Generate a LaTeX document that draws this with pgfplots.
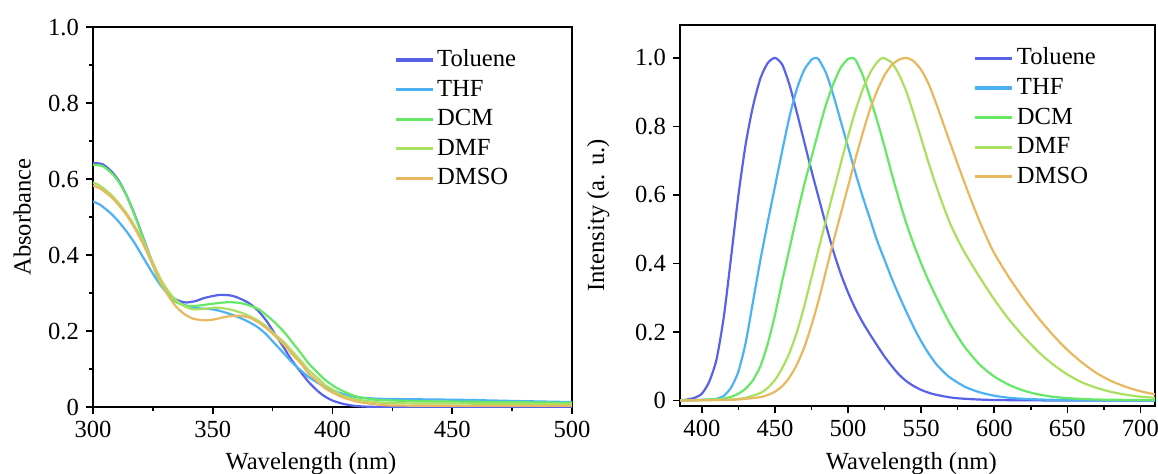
\documentclass[border=0pt]{standalone}
\usepackage{pgfplots}
\pgfplotsset{compat=1.18}
\usepackage{fontspec}
\setmainfont{Liberation Serif}
\definecolor{ctol}{RGB}{87,98,232}
\definecolor{cthf}{RGB}{77,178,245}
\definecolor{cdcm}{RGB}{102,232,102}
\definecolor{cdmf}{RGB}{170,224,96}
\definecolor{cdmso}{RGB}{232,184,96}
\pgfplotsset{
  myax/.style={
    scale only axis,
    axis line style={line width=1pt},
    tick style={black, line width=0.8pt},
    tick align=outside,
    major tick length=3.5pt,
    minor tick length=2pt,
    xtick pos=bottom, ytick pos=left,
    /pgf/number format/assume math mode=true,
    font=\fontsize{12.3}{14}\selectfont,
    tick label style={font=\fontsize{12.3}{14}\selectfont},
    label style={font=\fontsize{11.7}{13}\selectfont},
    every axis plot/.append style={line width=1.1pt, smooth, tension=0.4},
    legend cell align=left,
    legend style={draw=none, fill=none, font=\fontsize{12.3}{14}\selectfont,
      row sep=0.3pt,
      nodes={inner sep=1.5pt, text height=9pt, text depth=2.5pt}},
    legend image code/.code={\draw[#1, line width=1.6pt, sharp plot] (0pt,0pt) -- (18.5pt,0pt);},
  }
}
\begin{document}
\begin{tikzpicture}
\useasboundingbox (-46.5pt,-33pt) rectangle (532.5pt,203.5pt);
\begin{axis}[myax,
  at={(0pt,0pt)}, anchor=south west,
  width=239.5pt, height=190pt,
  xmin=300, xmax=500, ymin=0, ymax=1,
  xtick={300,350,400,450,500},
  minor xtick={325,375,425,475},
  ytick={0,0.2,0.4,0.6,0.8,1.0},
  yticklabels={0,0.2,0.4,0.6,0.8,1.0},
  minor ytick={0.1,0.3,0.5,0.7,0.9},
  xlabel={Wavelength (nm)}, ylabel={Absorbance},
  every axis x label/.style={at={(axis description cs:0.455,-0.15)}, anchor=center},
  every axis y label/.style={at={(axis description cs:-0.148,0.5)}, anchor=center, rotate=90},
  legend style={at={(axis description cs:0.615,0.963)}, anchor=north west},
]
\addplot[ctol] coordinates {(300,0.642)(304,0.639)(308,0.618)(311,0.593)(314,0.557)(317.5,0.505)(321,0.445)(324.5,0.385)(328,0.332)(333,0.29)(336,0.279)(339,0.275)(343,0.279)(346,0.286)(350,0.292)(353,0.295)(357,0.294)(360,0.289)(365,0.274)(369,0.253)(372.5,0.226)(376,0.192)(380,0.153)(383,0.123)(387,0.09)(390,0.066)(394,0.041)(397,0.027)(400,0.017)(404,0.009)(408,0.004)(411,0.002)(416,0.0005)(425,0)(460,0)(500,0)};
\addlegendentry{Toluene}
\addplot[cthf] coordinates {(300,0.541)(303,0.532)(307,0.512)(310,0.493)(314,0.462)(317.5,0.43)(321,0.393)(324.5,0.356)(328,0.322)(331.5,0.296)(335,0.278)(338.5,0.268)(342,0.261)(346,0.259)(350,0.257)(354,0.251)(358,0.243)(362,0.233)(365,0.224)(369,0.209)(372.5,0.19)(376,0.166)(380,0.139)(383,0.118)(387,0.095)(390,0.079)(394,0.063)(397,0.052)(401,0.042)(404,0.035)(408,0.028)(411,0.025)(418,0.022)(425,0.021)(453,0.019)(475,0.016)(500,0.013)};
\addlegendentry{THF}
\addplot[cdcm] coordinates {(300,0.637)(304,0.634)(308,0.614)(311,0.59)(314,0.556)(317.5,0.503)(321,0.443)(324.5,0.382)(328,0.327)(333,0.284)(336,0.272)(339,0.266)(343,0.266)(349,0.271)(353,0.274)(357,0.276)(361,0.274)(364,0.27)(369,0.258)(372,0.244)(376,0.222)(380,0.196)(383,0.172)(387,0.14)(390,0.115)(394,0.089)(397,0.071)(401,0.053)(404,0.043)(408,0.032)(411,0.026)(418,0.019)(425,0.017)(440,0.015)(470,0.013)(500,0.011)};
\addlegendentry{DCM}
\addplot[cdmf] coordinates {(300,0.591)(303,0.582)(307,0.562)(310,0.542)(314,0.51)(317.5,0.475)(321,0.435)(324.5,0.387)(328,0.34)(331.5,0.304)(335,0.279)(338.5,0.264)(342,0.257)(346,0.258)(350,0.261)(353,0.261)(357,0.257)(361,0.25)(364,0.243)(369,0.227)(372.5,0.211)(376,0.191)(380,0.169)(383,0.148)(387,0.12)(390,0.097)(394,0.075)(397,0.057)(401,0.042)(404,0.031)(408,0.023)(411,0.019)(418,0.013)(425,0.01)(450,0.009)(500,0.008)};
\addlegendentry{DMF}
\addplot[cdmso] coordinates {(300,0.583)(303,0.575)(307,0.556)(310,0.537)(314,0.505)(317.5,0.47)(321,0.428)(324.5,0.38)(328,0.332)(331.5,0.292)(335,0.262)(338.5,0.243)(342,0.232)(347,0.228)(351,0.231)(356,0.238)(361,0.24)(365,0.236)(369,0.223)(372.5,0.207)(376,0.187)(380,0.163)(383,0.14)(387,0.113)(390,0.088)(394,0.066)(397,0.049)(401,0.035)(404,0.026)(408,0.018)(411,0.013)(418,0.007)(425,0.004)(450,0.003)(500,0.003)};
\addlegendentry{DMSO}
\end{axis}
\begin{axis}[myax,
  at={(293.5pt,0.5pt)}, anchor=south west,
  width=237.5pt, height=190.5pt,
  xmin=385, xmax=710, ymin=-0.016, ymax=1.096,
  xtick={400,450,500,550,600,650,700},
  minor xtick={425,475,525,575,625,675},
  ytick={0,0.2,0.4,0.6,0.8,1.0},
  yticklabels={0,0.2,0.4,0.6,0.8,1.0},
  xlabel={Wavelength (nm)}, ylabel={Intensity (a. u.)},
  every axis x label/.style={at={(axis description cs:0.487,-0.15)}, anchor=center},
  every axis y label/.style={at={(axis description cs:-0.172,0.5)}, anchor=center, rotate=90},
  legend style={at={(axis description cs:0.605,0.962)}, anchor=north west},
]
\addplot[ctol] coordinates {(385,0)(390,0.003)(395,0.008)(400,0.02)(405,0.055)(410,0.12)(415,0.245)(420,0.42)(425,0.6)(430,0.75)(435,0.86)(440,0.94)(445,0.985)(450,1.0)(455,0.98)(460,0.92)(465,0.84)(470,0.755)(475,0.67)(480,0.59)(485,0.51)(490,0.435)(495,0.37)(500,0.315)(505,0.268)(510,0.228)(515,0.193)(520,0.16)(525,0.128)(530,0.1)(535,0.075)(540,0.056)(545,0.042)(550,0.031)(555,0.023)(560,0.017)(570,0.009)(580,0.005)(600,0.0015)(650,0)(710,0)};
\addlegendentry{Toluene}
\addplot[cthf] coordinates {(385,0)(395,0.001)(400,0.002)(405,0.003)(410,0.005)(415,0.014)(420,0.038)(425,0.085)(430,0.17)(435,0.29)(440,0.41)(445,0.52)(450,0.625)(455,0.73)(460,0.83)(465,0.91)(470,0.965)(475,0.995)(478,1.0)(480,0.995)(485,0.955)(490,0.89)(495,0.815)(500,0.74)(505,0.665)(510,0.595)(515,0.53)(520,0.465)(525,0.41)(530,0.355)(535,0.305)(540,0.258)(545,0.213)(550,0.173)(555,0.138)(560,0.108)(565,0.085)(570,0.066)(580,0.04)(590,0.024)(600,0.014)(610,0.008)(620,0.005)(640,0.002)(670,0.0005)(710,0)};
\addlegendentry{THF}
\addplot[cdcm] coordinates {(385,0)(400,0.002)(410,0.004)(415,0.006)(420,0.011)(425,0.02)(430,0.035)(435,0.06)(440,0.1)(445,0.165)(450,0.25)(455,0.35)(460,0.445)(465,0.54)(470,0.63)(475,0.71)(480,0.79)(485,0.865)(490,0.925)(495,0.972)(500,0.997)(502,1.0)(505,0.995)(510,0.95)(515,0.885)(520,0.815)(525,0.74)(530,0.66)(535,0.585)(540,0.515)(545,0.455)(550,0.4)(555,0.35)(560,0.305)(565,0.262)(570,0.222)(575,0.187)(580,0.155)(590,0.105)(600,0.07)(610,0.046)(620,0.029)(630,0.018)(640,0.011)(650,0.007)(670,0.003)(710,0.001)};
\addlegendentry{DCM}
\addplot[cdmf] coordinates {(385,0)(400,0.001)(420,0.003)(430,0.008)(440,0.022)(445,0.037)(450,0.06)(455,0.095)(460,0.14)(465,0.2)(470,0.275)(475,0.36)(480,0.445)(485,0.528)(490,0.61)(495,0.692)(500,0.772)(505,0.845)(510,0.908)(515,0.956)(520,0.988)(524,1.0)(530,0.985)(535,0.95)(540,0.9)(545,0.835)(550,0.765)(555,0.695)(560,0.63)(565,0.57)(570,0.515)(575,0.47)(580,0.43)(590,0.36)(600,0.295)(610,0.237)(620,0.187)(630,0.143)(640,0.106)(650,0.076)(660,0.053)(670,0.037)(680,0.025)(690,0.017)(700,0.011)(710,0.008)};
\addlegendentry{DMF}
\addplot[cdmso] coordinates {(385,0)(420,0.002)(430,0.005)(440,0.01)(445,0.016)(450,0.026)(455,0.042)(460,0.068)(465,0.105)(470,0.155)(475,0.22)(480,0.295)(485,0.38)(490,0.465)(495,0.545)(500,0.625)(505,0.705)(510,0.78)(515,0.85)(520,0.905)(525,0.95)(530,0.98)(535,0.995)(540,1.0)(545,0.99)(550,0.965)(555,0.925)(560,0.87)(565,0.81)(570,0.75)(575,0.69)(580,0.632)(585,0.576)(590,0.523)(595,0.474)(600,0.43)(610,0.36)(620,0.298)(630,0.242)(640,0.192)(650,0.148)(660,0.111)(670,0.08)(680,0.057)(690,0.04)(700,0.027)(710,0.018)};
\addlegendentry{DMSO}
\end{axis}
\end{tikzpicture}
\end{document}
